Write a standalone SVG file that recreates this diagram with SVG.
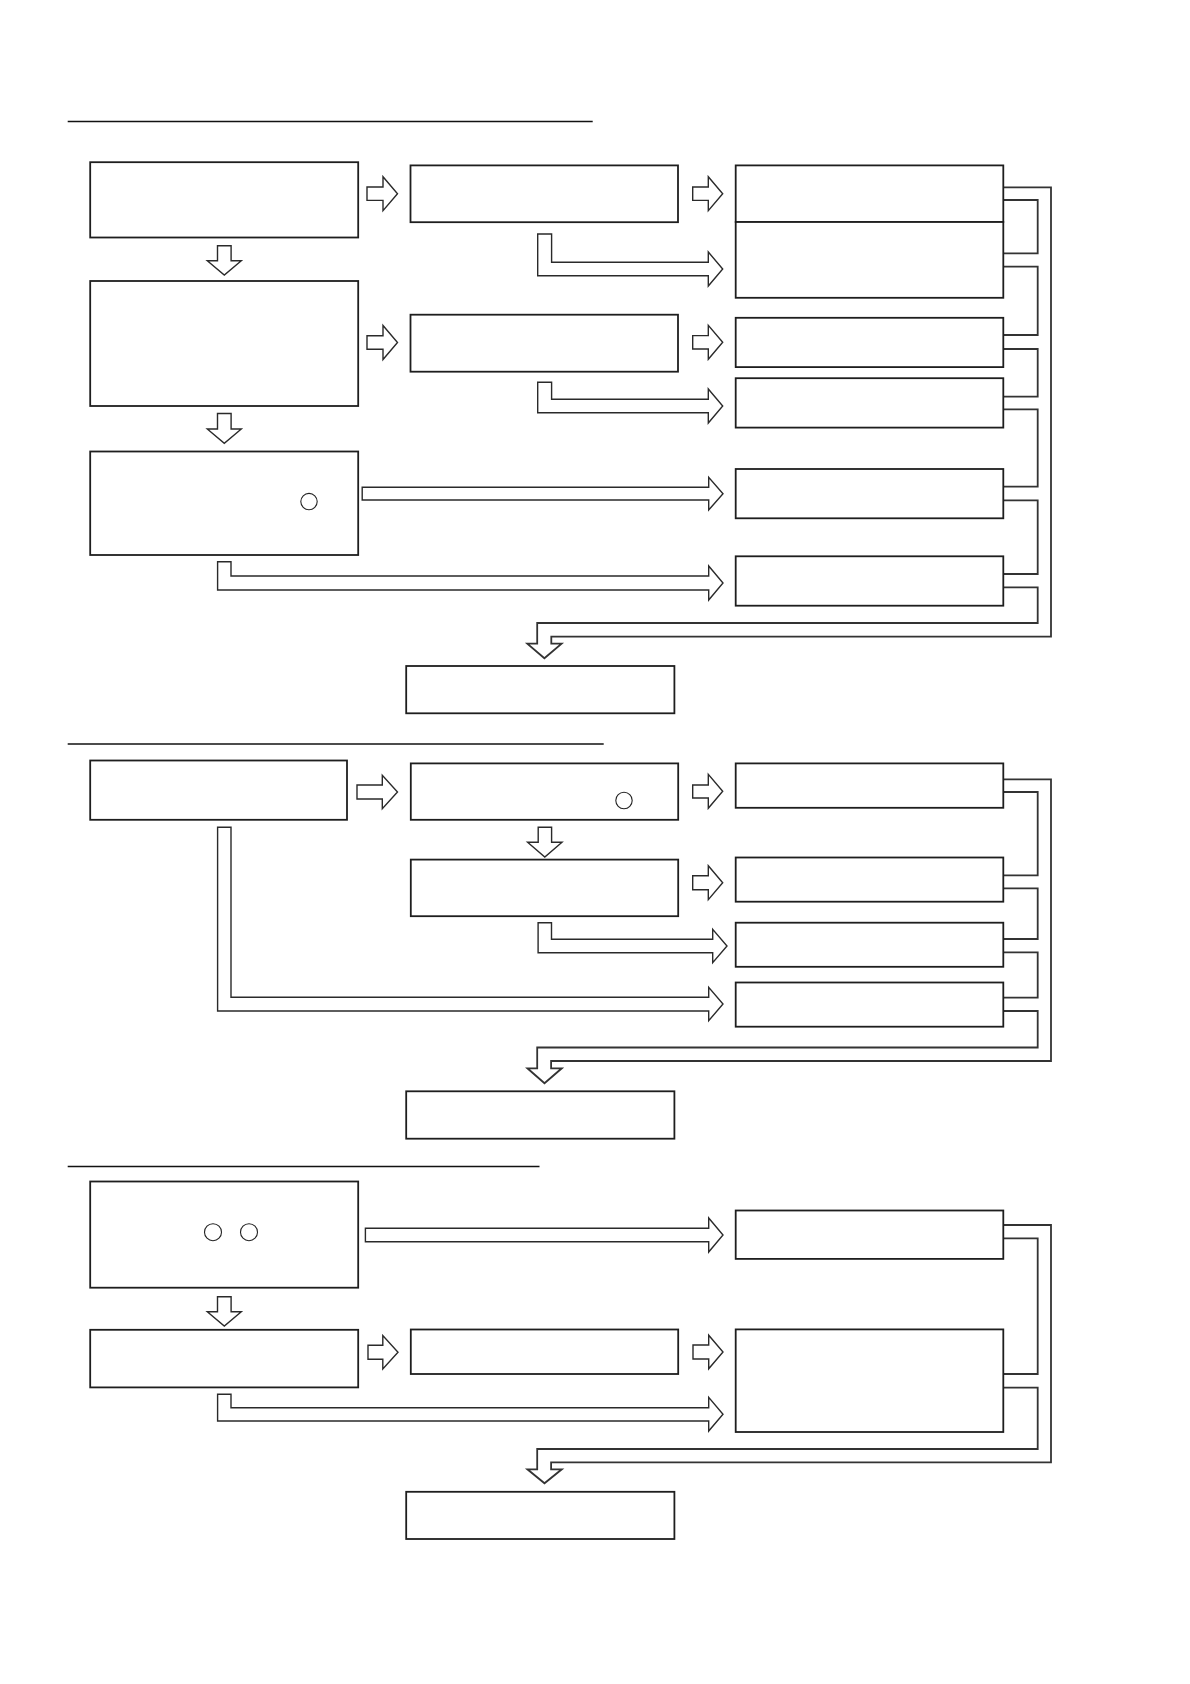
<svg xmlns="http://www.w3.org/2000/svg" width="1190" height="1684" viewBox="0 0 1190 1684">
<style>
.box{fill:#fff;stroke:#1e1e1e;stroke-width:1.8}
.sep{stroke:#111;stroke-width:1.5;fill:none}
.arr{fill:#fff;stroke:#2a2a2a;stroke-width:1.4;stroke-linejoin:miter}
.con{fill:none;stroke:#333;stroke-width:1.8}
.mark{fill:#fff;stroke:#222;stroke-width:1.1}
</style>
<rect width="1190" height="1684" fill="#fff"/>
<g id="separators">
<line class="sep" x1="67.7" y1="121.4" x2="592.7" y2="121.4"/>
<line class="sep" x1="67.7" y1="744" x2="603.7" y2="744"/>
<line class="sep" x1="67.7" y1="1166.6" x2="539.5" y2="1166.6"/>
</g>
<g id="connectors">
<!-- section 1 -->
<polygon class="arr" points="367,187 383,187 383,176.7 397.5,193.7 383,210.7 383,200.4 367,200.4"/>
<polygon class="arr" points="692.7,187 708.3,187 708.3,176.7 722.7,193.7 708.3,210.7 708.3,200.4 692.7,200.4"/>
<polygon class="arr" points="367,335.8 383,335.8 383,325.5 397.5,342.5 383,359.5 383,349.2 367,349.2"/>
<polygon class="arr" points="692.7,335.6 708.3,335.6 708.3,325.3 722.7,342.3 708.3,359.3 708.3,349 692.7,349"/>
<polygon class="arr" points="217.5,245.7 231.1,245.7 231.1,260.7 241.3,260.7 224.3,275 207.3,260.7 217.5,260.7"/>
<polygon class="arr" points="217.5,413.5 231.1,413.5 231.1,429 241.3,429 224.3,443.3 207.3,429 217.5,429"/>
<polygon class="arr" points="537.7,234 551.6,234 551.6,262.3 708.3,262.3 708.3,252 722.7,269 708.3,286 708.3,275.7 537.7,275.7"/>
<polygon class="arr" points="537.7,382.3 551.6,382.3 551.6,399.3 708.3,399.3 708.3,389 722.7,406 708.3,423 708.3,412.7 537.7,412.7"/>
<polygon class="arr" points="362.2,487.3 708.7,487.3 708.7,477.3 723,493.7 708.7,510 708.7,500 362.2,500"/>
<polygon class="arr" points="217.6,561.7 231,561.7 231,576 708.7,576 708.7,566 723,583 708.7,600 708.7,590 217.6,590"/>
<path class="con" d="M1003.3,187.3 H1051 V636.7 H551.3 V643.7 H561.6 L544.4,658.3 L527.3,643.7 H537.2 V623 H1037.7 V587.3 H1003.3"/>
<path class="con" d="M1003.3,200 H1037.7 V253.3 H1003.3 M1003.3,266.7 H1037.7 V335 H1003.3 M1003.3,349 H1037.7 V396.7 H1003.3 M1003.3,409.3 H1037.7 V486.7 H1003.3 M1003.3,500.3 H1037.7 V574 H1003.3"/>
<!-- section 2 -->
<polygon class="arr" points="357,785 382.3,785 382.3,775.3 397.5,792 382.3,808.7 382.3,799 357,799"/>
<polygon class="arr" points="692.7,785 708.3,785 708.3,774.3 722.7,791.3 708.3,808.3 708.3,798 692.7,798"/>
<polygon class="arr" points="692.7,875.7 708.3,875.7 708.3,865.7 722.7,882.7 708.3,899.7 708.3,889.7 692.7,889.7"/>
<polygon class="arr" points="538.2,827.3 551.6,827.3 551.6,842.3 562,842.3 544.8,857 527.6,842.3 538.2,842.3"/>
<polygon class="arr" points="538.1,922.7 551.5,922.7 551.5,939.3 712.7,939.3 712.7,929.3 727,946 712.7,962.7 712.7,952.7 538.1,952.7"/>
<polygon class="arr" points="217.6,827.3 231,827.3 231,997.3 708.7,997.3 708.7,987.3 723,1004 708.7,1020.7 708.7,1011 217.6,1011"/>
<path class="con" d="M1003.3,779.3 H1051 V1061 H551.1 V1068.3 H561.8 L544.5,1083.3 L527.4,1068.3 H537.2 V1047.5 H1037.7 V1011 H1003.3"/>
<path class="con" d="M1003.3,792 H1037.7 V875.3 H1003.3 M1003.3,888.3 H1037.7 V939 H1003.3 M1003.3,952.3 H1037.7 V997.7 H1003.3"/>
<!-- section 3 -->
<polygon class="arr" points="365.4,1228.3 708.7,1228.3 708.7,1218 723,1235 708.7,1252 708.7,1241.7 365.4,1241.7"/>
<polygon class="arr" points="217.5,1296.7 231.1,1296.7 231.1,1311.7 241.3,1311.7 224.3,1326 207.3,1311.7 217.5,1311.7"/>
<polygon class="arr" points="368,1345.3 382.8,1345.3 382.8,1335.5 398,1352.3 382.8,1369 382.8,1359.3 368,1359.3"/>
<polygon class="arr" points="693,1345 708.7,1345 708.7,1335.2 723,1352 708.7,1368.8 708.7,1359 693,1359"/>
<polygon class="arr" points="217.6,1394.3 231,1394.3 231,1407.7 708.7,1407.7 708.7,1397.3 723,1414.3 708.7,1431 708.7,1421 217.6,1421"/>
<path class="con" d="M1003.3,1225 H1051 V1462.3 H551.1 V1469.3 H561.8 L544.5,1483.3 L527.4,1469.3 H537.2 V1449 H1037.7 V1387.7 H1003.3"/>
<path class="con" d="M1003.3,1238.3 H1037.7 V1374 H1003.3"/>
</g>
<g id="node-A1"><rect class="box" x="90.2" y="162.2" width="268" height="75.3"/></g>
<g id="node-A2"><rect class="box" x="90.2" y="281" width="268" height="125"/></g>
<g id="node-A3"><rect class="box" x="90.2" y="451.5" width="268" height="103.5"/><circle class="mark" cx="309" cy="501.6" r="8.2"/></g>
<g id="node-B1"><rect class="box" x="410.5" y="165.4" width="267.5" height="56.8"/></g>
<g id="node-B2"><rect class="box" x="410.5" y="314.7" width="267.5" height="57"/></g>
<g id="node-R1"><rect class="box" x="735.7" y="165.4" width="267.6" height="56.6"/></g>
<g id="node-R2"><rect class="box" x="735.7" y="222" width="267.6" height="75.8"/></g>
<g id="node-R3"><rect class="box" x="735.7" y="317.8" width="267.6" height="49.3"/></g>
<g id="node-R4"><rect class="box" x="735.7" y="378.2" width="267.6" height="49.4"/></g>
<g id="node-R5"><rect class="box" x="735.7" y="469" width="267.6" height="49.3"/></g>
<g id="node-R6"><rect class="box" x="735.7" y="556.3" width="267.6" height="49.4"/></g>
<g id="node-F1"><rect class="box" x="406.2" y="666" width="268.2" height="47.3"/></g>
<g id="node-C1"><rect class="box" x="90.2" y="760.5" width="256.8" height="59.3"/></g>
<g id="node-D1"><rect class="box" x="410.8" y="763.4" width="267.4" height="56.4"/><circle class="mark" cx="624" cy="800.5" r="8.2"/></g>
<g id="node-D2"><rect class="box" x="410.8" y="859.6" width="267.4" height="56.6"/></g>
<g id="node-S1"><rect class="box" x="735.7" y="763.4" width="267.6" height="44.4"/></g>
<g id="node-S2"><rect class="box" x="735.7" y="857.5" width="267.6" height="44.2"/></g>
<g id="node-S3"><rect class="box" x="735.7" y="922.7" width="267.6" height="44.1"/></g>
<g id="node-S4"><rect class="box" x="735.7" y="982.5" width="267.6" height="44.2"/></g>
<g id="node-F2"><rect class="box" x="406.2" y="1091.3" width="268.2" height="47.4"/></g>
<g id="node-G1"><rect class="box" x="90.2" y="1181.5" width="268" height="106.2"/><circle class="mark" cx="213" cy="1232.2" r="8.5"/><circle class="mark" cx="249" cy="1232.2" r="8.5"/></g>
<g id="node-G2"><rect class="box" x="90.2" y="1329.8" width="268" height="57.6"/></g>
<g id="node-H1"><rect class="box" x="410.8" y="1329.5" width="267.4" height="44.5"/></g>
<g id="node-T1"><rect class="box" x="735.7" y="1210.5" width="267.6" height="48.4"/></g>
<g id="node-T2"><rect class="box" x="735.7" y="1329.4" width="267.6" height="102.6"/></g>
<g id="node-F3"><rect class="box" x="406.2" y="1491.8" width="268.2" height="47.2"/></g>
</svg>
